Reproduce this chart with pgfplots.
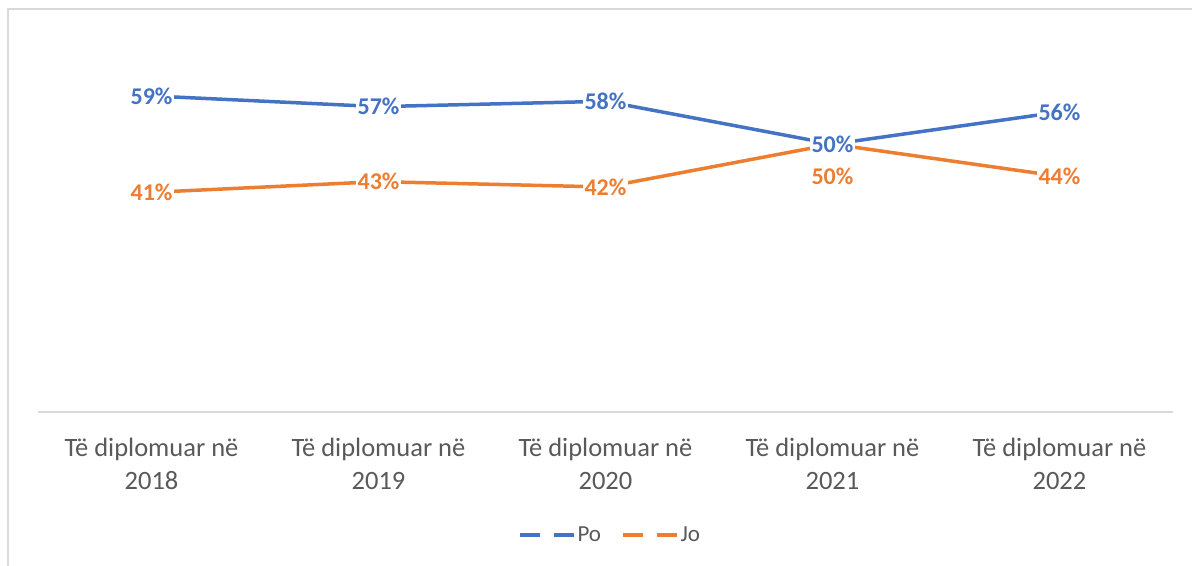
\documentclass[border=0pt]{standalone}
\usepackage{pgfplots}
\pgfplotsset{compat=1.18}
\usepackage{fontspec}
\setmainfont{Carlito}
\definecolor{cblue}{HTML}{4472C4}
\definecolor{corange}{HTML}{ED7D31}
\definecolor{ctext}{HTML}{595959}
\definecolor{cgrid}{HTML}{D9D9D9}
\begin{document}
\begin{tikzpicture}
\path[use as bounding box] (0,0) rectangle (1192bp,566bp);
\draw[cgrid, line width=1.5bp] (8bp,0bp) -- (8bp,557bp) -- (1192bp,557bp);
\begin{axis}[
  at={(38bp,154bp)}, anchor=south west, scale only axis,
  width=1135bp, height=375bp,
  xmin=-0.5, xmax=4.5, ymin=0, ymax=70,
  axis x line=bottom, axis y line=none,
  x axis line style={-, draw=cgrid, line width=1.5bp},
  xtick={0,1,2,3,4},
  xticklabels={Të diplomuar në\\2018, Të diplomuar në\\2019, Të diplomuar në\\2020, Të diplomuar në\\2021, Të diplomuar në\\2022},
  major tick length=0pt,
  xticklabel style={align=center, font=\fontsize{26.5bp}{32.5bp}\selectfont, text=ctext, inner sep=0pt, yshift=-26bp},
  clip=false,
  legend columns=2,
  legend style={at={(0.504,-0.328)}, anchor=center, draw=none, fill=none,
    font=\fontsize{23bp}{28bp}\selectfont, text=ctext,
    /tikz/every even column/.append style={column sep=18bp}},
  legend image code/.code={\draw[#1, dash pattern=on 20bp off 14bp] (0bp,0bp) -- (54bp,0bp);},
  label style/.style={nodes near coords, point meta=explicit symbolic, draw=none, mark=none, forget plot,
    every node near coord/.append style={anchor=center, fill=white, inner sep=2bp,
      font=\bfseries\fontsize{24bp}{28bp}\selectfont}},
]
\addplot[cblue, line width=3.5bp, mark=none] coordinates {(0,59) (1,57) (2,58) (3,50) (4,56)};
\addlegendentry{Po}
\addplot[corange, line width=3.5bp, mark=none] coordinates {(0,41) (1,43) (2,42) (3,50) (4,44)};
\addlegendentry{Jo}
\addplot[label style, every node near coord/.append style={text=corange}] coordinates {(0,41) [41\%] (1,43) [43\%] (2,42) [42\%] (4,44) [44\%]};
\addplot[label style, every node near coord/.append style={text=corange, fill=none, yshift=-32bp}] coordinates {(3,50) [50\%]};
\addplot[label style, every node near coord/.append style={text=cblue}] coordinates {(0,59) [59\%] (1,57) [57\%] (2,58) [58\%] (3,50) [50\%] (4,56) [56\%]};
\end{axis}
\end{tikzpicture}
\end{document}
